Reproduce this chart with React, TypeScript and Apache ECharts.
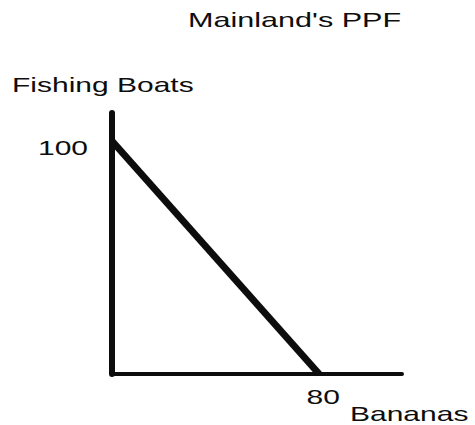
import React, { useEffect, useRef } from "react";
import * as echarts from "echarts";

const title = "Mainland's PPF";
const xName = "Bananas";
const yName = "Fishing Boats";
// PPF endpoints: [bananas, fishing boats]
const ppfPoints: [number, number][] = [
  [0, 100],
  [80, 0],
];
const xTickLabels = [80];
const yTickLabels = [100];
const xMax = 112;
const yMax = 112;

const FONT = "Liberation Sans, Arial, sans-serif";
const FS = 20;
const STRETCH = 1.5;
const INK = "#0d0d0d";

function txt(text: string, x: number, y: number, align: "left" | "right" | "center", sx = STRETCH) {
  return {
    type: "text",
    x,
    y,
    scaleX: sx,
    scaleY: 1,
    silent: true,
    style: {
      text,
      fontFamily: FONT,
      fontSize: FS,
      fill: INK,
      align,
      verticalAlign: "middle",
    },
  };
}

export default function App() {
  const ref = useRef<HTMLDivElement>(null);
  useEffect(() => {
    if (!ref.current) return;
    const chart = echarts.init(ref.current, undefined, { renderer: "svg" });
    chart.setOption({
      animation: false,
      backgroundColor: "#ffffff",
      grid: { left: 112, right: 73, top: 113, bottom: 51 },
      xAxis: {
        type: "value",
        min: 0,
        max: xMax,
        axisLine: { show: true, onZero: false, lineStyle: { color: INK, width: 4 } },
        axisTick: { show: false },
        splitLine: { show: false },
        axisLabel: { show: false },
      },
      yAxis: {
        type: "value",
        min: 0,
        max: yMax,
        axisLine: { show: true, onZero: false, lineStyle: { color: INK, width: 6 } },
        axisTick: { show: false },
        splitLine: { show: false },
        axisLabel: { show: false },
      },
      series: [
        {
          type: "line",
          data: ppfPoints,
          symbol: "none",
          lineStyle: { color: INK, width: 7 },
        },
      ],
    });

    const graphics: any[] = [];
    graphics.push(txt(title, 188, 20, "left", 1.53));
    graphics.push(txt(yName, 12, 85, "left"));
    graphics.push(txt(xName, 350, 414, "left"));
    xTickLabels.forEach((v) => {
      const p = chart.convertToPixel({ gridIndex: 0 }, [v, 0]) as number[];
      graphics.push(txt(String(v), p[0] + 4, p[1] + 23, "center"));
    });
    yTickLabels.forEach((v) => {
      const p = chart.convertToPixel({ gridIndex: 0 }, [0, v]) as number[];
      graphics.push(txt(String(v), p[0] - 24, p[1] + 7, "right"));
    });
    chart.setOption({ graphic: graphics });

    return () => chart.dispose();
  }, []);
  return (
    <div
      ref={ref}
      style={{ position: "absolute", left: 0, top: 0, width: 475, height: 425 }}
    />
  );
}
